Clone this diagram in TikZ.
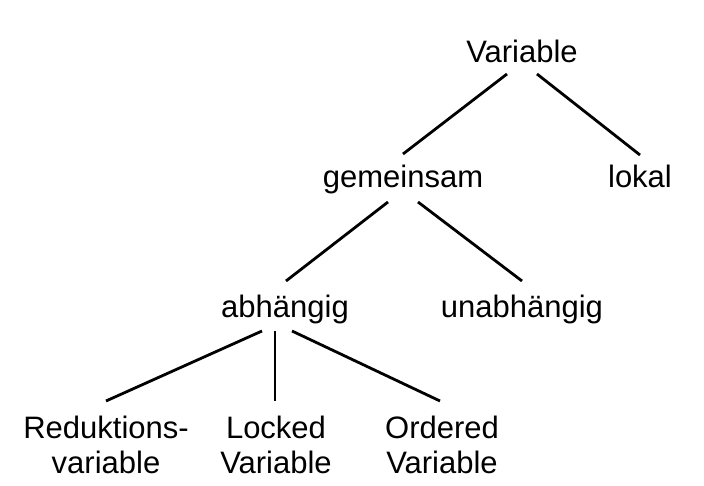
\documentclass[tikz,border=0pt]{standalone}
\usepackage{fontspec}
\setmainfont{Liberation Sans}
\begin{document}
\begin{tikzpicture}[x=1pt,y=-1pt,
  lbl/.style={inner sep=0pt, outer sep=0pt, font=\fontsize{31}{35}\selectfont, align=center},
  edge/.style={line width=2.8pt}]
\useasboundingbox[fill=white] (0,0) rectangle (704,486);
\node[lbl,anchor=base] (var)  at (522,63)  {Variable};
\node[lbl,anchor=base] (gem)  at (403,188) {gemeinsam};
\node[lbl,anchor=base] (lok)  at (640,188) {lokal};
\node[lbl,anchor=base] (abh)  at (285,317) {abhängig};
\node[lbl,anchor=base] (unab) at (522,317) {unabhängig};
\node[lbl,anchor=north] (red)  at (106,416) {Reduktions-\\variable};
\node[lbl,anchor=north] (lock) at (276,416) {Locked\\Variable};
\node[lbl,anchor=north] (ord)  at (442,416) {Ordered\\Variable};
\draw[edge] ([shift={(-15,11)}]var.base) -- ([shift={(0,-34)}]gem.base);
\draw[edge] ([shift={(15,11)}]var.base) -- ([shift={(0,-33)}]lok.base);
\draw[edge] ([shift={(-15,14)}]gem.base) -- ([shift={(1,-36)}]abh.base);
\draw[edge] ([shift={(15,14)}]gem.base) -- ([shift={(0,-36)}]unab.base);
\draw[edge] ([shift={(-23,14)}]abh.base) -- ([shift={(0,-15)}]red.north);
\draw[edge] ([shift={(-10,14)}]abh.base) -- ([shift={(-1,-15)}]lock.north);
\draw[edge] ([shift={(7,14)}]abh.base) -- ([shift={(-2,-15)}]ord.north);
\end{tikzpicture}
\end{document}
